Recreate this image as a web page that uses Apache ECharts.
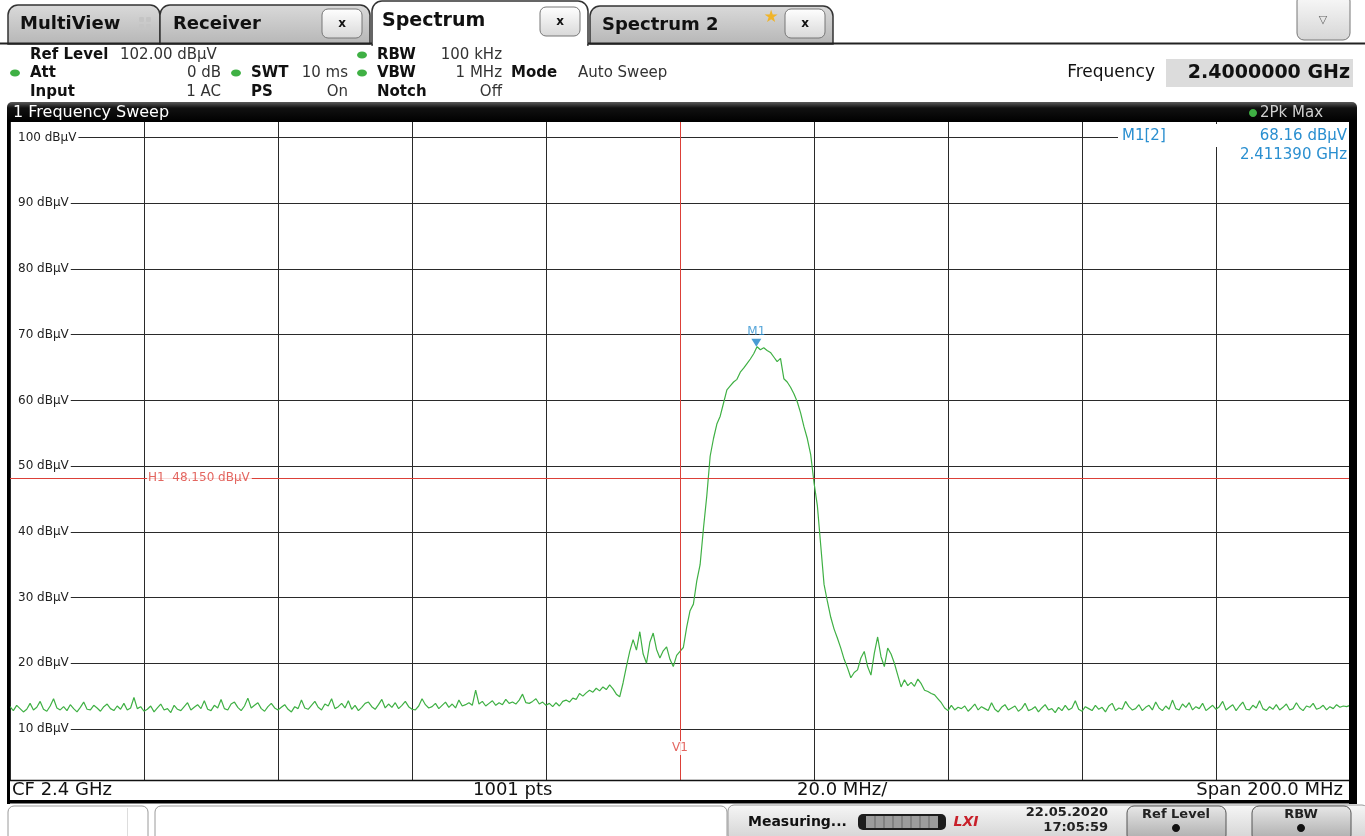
<!DOCTYPE html>
<html>
<head>
<meta charset="utf-8">
<title>Spectrum</title>
<script src="https://cdn.jsdelivr.net/npm/echarts@6.0.0/dist/echarts.min.js"></script>
<style>
  html, body { margin: 0; padding: 0; background: #fff; }
  #chart { width: 1365px; height: 836px; }
</style>
</head>
<body>
<div id="chart"></div>
<script>
// sweep: 2.3 GHz .. 2.5 GHz, one reading every 0.5 MHz
const sweepStartMHz = 2300
const sweepStepMHz = 0.5

// trace levels in dBuV, left to right
const floorLeft = [
  13.4, 12.8, 13.6, 13.1, 12.6, 13.0, 13.9, 12.9, 13.3, 14.2, 13.0, 12.7, 13.5, 14.6, 13.2, 12.9, 13.4, 12.8, 13.7, 13.1,
  12.6, 13.3, 14.1, 13.0, 12.9, 13.6, 13.2, 12.7, 13.4, 13.8, 13.1, 12.8, 13.5, 13.0, 13.9, 12.9, 13.2, 14.8, 13.1, 13.4,
  12.7, 13.0, 13.5, 12.6, 13.2, 13.8, 12.9, 13.1, 12.5, 13.6, 13.0, 12.8, 13.4, 14.0, 12.9, 13.3, 13.7, 13.1, 14.3, 13.0,
  12.8, 13.6, 13.2, 14.5, 13.1, 12.9, 13.8, 14.1, 13.3, 12.8, 13.5, 14.7, 13.2, 13.6, 14.0, 13.1, 12.7, 13.4, 13.9, 13.2,
  12.9, 13.3, 13.7, 13.0, 12.6, 13.4, 13.1, 14.4, 13.2, 13.0, 13.6, 14.2, 13.3, 12.9, 13.8, 13.5, 14.6, 13.1, 13.4, 13.9,
  13.2, 14.3, 13.0, 13.6, 12.8, 13.3, 13.9, 14.1, 13.4, 13.0, 13.7, 14.5, 13.2, 13.8, 13.3, 14.0, 13.1, 13.6, 14.2, 13.4,
  13.0, 12.9, 13.5, 14.6, 13.7, 13.2, 13.4, 13.9, 13.1, 13.6, 14.1, 13.3, 13.8, 13.2, 14.4, 13.5, 13.7, 14.0, 13.6, 15.9,
  13.8, 14.2, 13.5, 13.9, 14.3, 13.6, 14.0, 13.7, 14.5, 13.9
]
const skirtLeft = [
  14.1, 13.8, 14.4, 15.3, 14.0, 13.9, 14.2, 14.6, 13.8, 14.1,
  13.6, 13.9, 13.4, 14.0, 13.5, 14.2, 14.4, 14.1, 14.7, 14.5,
  15.4, 15.0, 15.5, 15.9, 15.6, 16.2, 15.8, 16.4, 16.0, 16.7,
  16.1, 15.3, 14.9, 17.0, 19.5, 21.8, 23.6, 22.0, 24.8, 21.4,
  20.0, 23.2, 24.6, 22.1, 20.8, 21.9, 22.5, 20.6, 19.5, 21.2
]
const mainLobe = [
  21.8, 22.4, 25.5, 28.0, 29.0, 32.5, 35.0, 40.5, 45.5, 51.5,
  54.2, 56.4, 57.6, 59.6, 61.6, 62.2, 62.8, 63.2, 64.3, 64.9,
  65.6, 66.3, 67.1, 68.16, 67.7, 68.0, 67.6, 67.3, 66.6, 65.9,
  66.4, 63.3, 62.8, 62.0, 61.0, 59.8, 58.1, 56.0, 54.2, 51.8,
  47.5, 44.0, 38.0, 32.0, 29.4, 27.0, 25.2, 23.8, 22.3, 20.6
]
const skirtRight = [
  19.3, 17.8, 18.6, 19.0, 20.8, 21.8, 19.5, 18.2, 21.5, 24.0,
  21.0, 19.5, 22.3, 21.4, 20.0, 18.2, 16.4, 17.5, 16.6, 17.1,
  16.5, 17.6, 16.9, 15.9, 15.7, 15.4, 15.2, 14.6, 14.0, 13.2
]
const floorRight = [
  12.8, 13.6, 12.9, 13.3, 13.1, 13.5, 12.7, 13.2, 13.8, 12.9, 13.4, 13.1, 12.8, 14.0, 13.0, 12.6, 13.3, 13.7, 12.9, 13.2,
  13.5, 12.7, 13.1, 13.9, 12.8, 13.0, 13.4, 12.6, 13.2, 13.7, 12.9, 13.1, 12.5, 13.3, 12.8, 13.6, 12.9, 13.2, 14.3, 13.0,
  12.7, 13.4, 13.1, 12.8, 13.6, 13.0, 13.3, 12.6, 13.5, 13.9, 12.8, 13.2, 13.0, 14.2, 13.4, 12.9, 13.1, 13.7, 12.8, 13.3,
  13.6, 12.9, 14.1, 13.2, 12.8, 13.5, 13.0, 14.4, 13.1, 12.9, 13.8, 13.3, 14.0, 12.9, 13.4, 13.1, 13.9, 12.8, 13.2, 13.6,
  13.0, 13.4, 14.2, 12.9, 13.3, 13.7, 12.8, 13.5, 14.1, 13.0, 12.9, 13.6, 13.2, 14.3, 13.1, 12.8, 13.4, 13.0, 13.7, 12.9,
  13.3, 13.8, 12.9, 13.1, 14.0, 13.2, 12.8, 13.5, 13.3, 13.9, 13.0, 13.2, 13.6, 12.9, 13.4, 13.1, 13.7, 13.3, 13.5, 13.4, 13.6
]

const markerM1 = [2411.39, 68.16]
const lineH1 = 48.15
const lineV1 = 2400

const traceLevels = floorLeft.concat(skirtLeft, mainLobe, skirtRight, floorRight)
const tracePoints = traceLevels.map((v, i) => [sweepStartMHz + i * sweepStepMHz, v])

const FONT = "'DejaVu Sans', Verdana, sans-serif"
const GREEN = '#3fb044'
const RED = '#dc4038'
const BLUE = '#2a8fd0'

function txt(x, y, text, size, o = {}) {
  return {
    type: 'text', x, y, z: o.z || 60,
    style: {
      text,
      font: (o.style ? o.style + ' ' : '') + (o.bold ? 'bold ' : '') + size + 'px ' + FONT,
      fill: o.color || '#111',
      align: o.align || 'left',
      verticalAlign: 'middle'
    }
  }
}
function box(x, y, w, h, fill, o = {}) {
  return {
    type: 'rect', z: o.z || 50,
    shape: { x, y, width: w, height: h, r: o.r || 0 },
    style: { fill, stroke: o.stroke || null, lineWidth: o.lw || 1 }
  }
}
function dot(cx, cy, color, rx, ry) {
  return { type: 'ellipse', z: 60, shape: { cx, cy, rx: rx || 5, ry: ry || 3.5 }, style: { fill: color || GREEN } }
}
function grad(a, b) {
  return new echarts.graphic.LinearGradient(0, 0, 0, 1, [{ offset: 0, color: a }, { offset: 1, color: b }])
}
function closeBtn(x, y) {
  return [
    box(x, y, 40, 29, grad('#ffffff', '#d8d8d8'), { r: 6, stroke: '#777', z: 52 }),
    txt(x + 20, y + 14.5, 'x', 12, { bold: true, align: 'center', z: 53 })
  ]
}

const chrome = [].concat(
  // tabs
  box(8, 5, 152, 39, grad('#dadada', '#b6b6b6'), { r: [10, 10, 0, 0], stroke: '#333', lw: 1.5 }),
  txt(20, 24, 'MultiView', 18, { bold: true }),
  box(139, 17, 5, 5, '#c4c4c4', { r: 1, z: 55 }), box(146, 17, 5, 5, '#c4c4c4', { r: 1, z: 55 }),
  box(139, 24, 5, 5, '#c4c4c4', { r: 1, z: 55 }), box(146, 24, 5, 5, '#c4c4c4', { r: 1, z: 55 }),
  box(160, 5, 210, 39, grad('#dadada', '#b6b6b6'), { r: [10, 10, 0, 0], stroke: '#333', lw: 1.5 }),
  txt(173, 24, 'Receiver', 18, { bold: true }),
  closeBtn(322, 9),
  box(372, 1, 216, 44, '#fff', { r: [10, 10, 0, 0], stroke: '#333', lw: 1.5 }),
  box(373, 40, 214, 8, '#fff', { z: 51 }),
  txt(382, 21, 'Spectrum', 19, { bold: true }),
  closeBtn(540, 7),
  box(590, 6, 243, 38, grad('#dadada', '#b6b6b6'), { r: [10, 10, 0, 0], stroke: '#333', lw: 1.5 }),
  txt(602, 25, 'Spectrum 2', 18, { bold: true }),
  txt(771, 18, '\u2605', 17, { color: '#f0b429', align: 'center', z: 54 }),
  closeBtn(785, 9),
  { type: 'line', z: 55, shape: { x1: 0, y1: 43.5, x2: 372, y2: 43.5 }, style: { stroke: '#222', lineWidth: 2 } },
  { type: 'line', z: 55, shape: { x1: 588, y1: 43.5, x2: 1365, y2: 43.5 }, style: { stroke: '#222', lineWidth: 2 } },
  box(1297, -6, 53, 46, grad('#fafafa', '#d6d6d6'), { r: 7, stroke: '#777' }),
  txt(1323, 20, '\u25BD', 11, { color: '#666', align: 'center' }),

  // settings header
  txt(30, 55, 'Ref Level', 15, { bold: true }),
  txt(120, 55, '102.00 dB\u00B5V', 15, { color: '#333' }),
  dot(15, 73),
  txt(30, 73, 'Att', 15, { bold: true }),
  txt(221, 73, '0 dB', 15, { color: '#333', align: 'right' }),
  dot(236, 73),
  txt(251, 73, 'SWT', 15, { bold: true }),
  txt(348, 73, '10 ms', 15, { color: '#333', align: 'right' }),
  dot(362, 55), dot(362, 73),
  txt(377, 55, 'RBW', 15, { bold: true }),
  txt(502, 55, '100 kHz', 15, { color: '#333', align: 'right' }),
  txt(377, 73, 'VBW', 15, { bold: true }),
  txt(502, 73, '1 MHz', 15, { color: '#333', align: 'right' }),
  txt(30, 92, 'Input', 15, { bold: true }),
  txt(221, 92, '1 AC', 15, { color: '#333', align: 'right' }),
  txt(251, 92, 'PS', 15, { bold: true }),
  txt(348, 92, 'On', 15, { color: '#333', align: 'right' }),
  txt(377, 92, 'Notch', 15, { bold: true }),
  txt(502, 92, 'Off', 15, { color: '#333', align: 'right' }),
  txt(511, 73, 'Mode', 15, { bold: true }),
  txt(578, 73, 'Auto Sweep', 15, { color: '#333' }),
  txt(1155, 73, 'Frequency', 17, { align: 'right' }),
  box(1166, 59, 187, 28, '#dcdcdc'),
  txt(1350, 73, '2.4000000 GHz', 19, { bold: true, align: 'right' }),

  // window title bar
  box(7, 102, 1350, 20, new echarts.graphic.LinearGradient(0, 0, 0, 1, [
    { offset: 0, color: '#5a5a5a' }, { offset: 0.3, color: '#111' }, { offset: 1, color: '#000' }
  ]), { r: [5, 5, 0, 0] }),
  txt(13, 113, '1 Frequency Sweep', 16, { color: '#fff' }),
  dot(1253, 113, GREEN, 4, 4),
  txt(1260, 113, '2Pk Max', 15, { color: '#d0d0d0' }),

  // plot frame
  box(7, 120, 3, 684, '#000'),
  box(1349, 120, 8, 684, '#000'),
  { type: 'line', z: 55, shape: { x1: 10, y1: 780.5, x2: 1349, y2: 780.5 }, style: { stroke: '#111', lineWidth: 1.5 } },
  box(7, 800, 1350, 3.5, '#000'),
  txt(12, 790, 'CF 2.4 GHz', 18),
  txt(473, 790, '1001 pts', 18),
  txt(797, 790, '20.0 MHz/', 18),
  txt(1343, 790, 'Span 200.0 MHz', 18, { align: 'right' }),

  // marker readout
  box(1118, 124, 231, 23, '#fff', { z: 55 }),
  box(1217, 147, 132, 19, '#fff', { z: 55 }),
  txt(1122, 136, 'M1[2]', 15, { color: BLUE }),
  txt(1347, 136, '68.16 dB\u00B5V', 15, { color: BLUE, align: 'right' }),
  txt(1347, 155, '2.411390 GHz', 15, { color: BLUE, align: 'right' }),

  // status bar
  box(8, 806, 140, 36, '#fff', { r: 6, stroke: '#9a9a9a' }),
  { type: 'line', z: 55, shape: { x1: 127.5, y1: 808, x2: 127.5, y2: 836 }, style: { stroke: '#ddd', lineWidth: 1 } },
  box(155, 806, 572, 36, '#fff', { r: 6, stroke: '#9a9a9a' }),
  box(728, 805, 640, 36, grad('#f6f6f6', '#d2d2d2'), { r: 6, stroke: '#9a9a9a' }),
  txt(748, 822, 'Measuring...', 14, { bold: true }),
  box(858, 814, 88, 16, '#1c1c1c', { r: 5, z: 55 }),
  box(866, 816, 72, 12, '#9c9c9c', { z: 56 }),
  txt(966, 822, 'LXI', 14, { bold: true, style: 'italic', color: '#c8202a', align: 'center' }),
  txt(1108, 813, '22.05.2020', 13, { bold: true, align: 'right', color: '#222' }),
  txt(1108, 828, '17:05:59', 13, { bold: true, align: 'right', color: '#222' }),
  box(1127, 806, 99, 36, grad('#e8e8e8', '#a8a8a8'), { r: 7, stroke: '#555', z: 57 }),
  txt(1176, 815, 'Ref Level', 13, { bold: true, align: 'center', color: '#222' }),
  dot(1176, 828, '#111', 4, 4),
  box(1252, 806, 99, 36, grad('#e8e8e8', '#a8a8a8'), { r: 7, stroke: '#555', z: 57 }),
  txt(1301, 815, 'RBW', 13, { bold: true, align: 'center', color: '#222' }),
  dot(1301, 828, '#111', 4, 4)
)
// progress segments of the measuring indicator
for (let k = 1; k < 8; k++) {
  chrome.push({ type: 'line', z: 57, shape: { x1: 866 + k * 9, y1: 816, x2: 866 + k * 9, y2: 828 }, style: { stroke: '#666', lineWidth: 1 } })
}
chrome.forEach(e => { if (e.z >= 58 || e.type === 'text') e.z = Math.max(e.z, 60) })

const option = {
  animation: false,
  backgroundColor: '#fff',
  grid: [
    { left: 10, top: 122, width: 1340, height: 658 },
    { left: 10, top: 137.5, width: 1340, height: 591.5 }
  ],
  xAxis: [
    {
      gridIndex: 0, type: 'value', min: 2300, max: 2500, interval: 20,
      axisLine: { show: false }, axisTick: { show: false }, axisLabel: { show: false },
      splitLine: { show: true, lineStyle: { color: '#2a2a2a', width: 1 } }
    },
    { gridIndex: 1, type: 'value', min: 2300, max: 2500, show: false }
  ],
  yAxis: [
    { gridIndex: 0, type: 'value', min: 0, max: 1, show: false },
    {
      gridIndex: 1, type: 'value', min: 10, max: 100, interval: 10,
      axisLine: { show: false }, axisTick: { show: false },
      axisLabel: {
        inside: true, margin: 1, formatter: '{value} dB\u00B5V',
        color: '#222', fontSize: 12, fontFamily: FONT,
        backgroundColor: '#fff', padding: [1, 2, 1, 7],
        showMinLabel: true, showMaxLabel: true
      },
      splitLine: { show: true, lineStyle: { color: '#2a2a2a', width: 1 } }
    }
  ],
  series: [
    {
      name: 'Trace 1',
      type: 'line',
      xAxisIndex: 1, yAxisIndex: 1,
      data: tracePoints,
      symbol: 'none',
      lineStyle: { color: GREEN, width: 1.2 },
      markLine: {
        silent: true, symbol: ['none', 'none'], label: { show: false },
        lineStyle: { color: RED, type: 'solid', width: 1 },
        data: [{ yAxis: lineH1 }]
      }
    },
    {
      name: 'H1',
      type: 'scatter', z: 5,
      xAxisIndex: 1, yAxisIndex: 1,
      data: [[2320, lineH1]],
      symbolSize: 0,
      label: {
        show: true, position: 'right', distance: 3,
        formatter: 'H1  48.150 dB\u00B5V',
        color: RED, fontSize: 12, fontFamily: FONT,
        backgroundColor: '#fff', padding: [1, 2, 1, 1]
      }
    },
    {
      name: 'M1',
      type: 'scatter', z: 6,
      xAxisIndex: 1, yAxisIndex: 1,
      data: [markerM1],
      symbol: 'triangle', symbolRotate: 180, symbolSize: [10, 8], symbolOffset: [0, -4],
      itemStyle: { color: '#1b83c9' },
      label: { show: true, position: 'top', distance: 1, formatter: 'M1', color: BLUE, fontSize: 12, fontFamily: FONT }
    },
    {
      name: 'V1',
      type: 'scatter', z: 5,
      xAxisIndex: 0, yAxisIndex: 0,
      data: [[lineV1, 0.0486]],
      symbolSize: 0,
      label: {
        show: true, position: 'inside', formatter: 'V1',
        color: RED, fontSize: 12, fontFamily: FONT,
        backgroundColor: '#fff', padding: [1, 1, 1, 1]
      },
      markLine: {
        silent: true, symbol: ['none', 'none'], label: { show: false },
        lineStyle: { color: RED, type: 'solid', width: 1 },
        data: [{ xAxis: lineV1 }]
      }
    }
  ],
  graphic: { elements: chrome }
}

const mychart = echarts.init(document.getElementById('chart'))
mychart.setOption(option)
</script>
</body>
</html>
